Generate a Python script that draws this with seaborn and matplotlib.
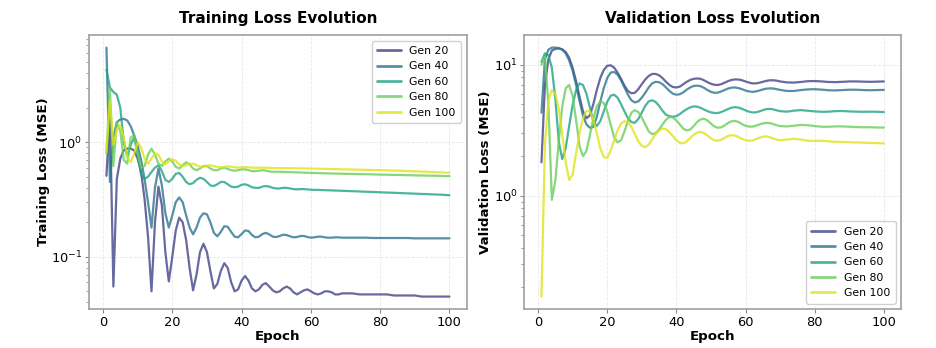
import numpy as np
import pandas as pd
import matplotlib
matplotlib.use("Agg")
import matplotlib.pyplot as plt
import seaborn as sns

# --- data ---
GEN_LABELS = ["Gen 20", "Gen 40", "Gen 60", "Gen 80", "Gen 100"]

# epochs 1..70 every epoch, then every 2nd epoch up to 100
EPOCHS = list(range(1, 71)) + list(range(72, 101, 2))

train_gen20 = [0.51, 1.9, 0.055, 0.48, 0.72, 0.85, 0.88, 0.88, 0.85, 0.72,
               0.55, 0.32, 0.15, 0.05, 0.2, 0.41, 0.28, 0.11, 0.061, 0.1,
               0.17, 0.22, 0.2, 0.14, 0.08, 0.051, 0.07, 0.11, 0.13, 0.11,
               0.075, 0.053, 0.058, 0.075, 0.088, 0.08, 0.06, 0.05, 0.052, 0.062,
               0.068, 0.062, 0.053, 0.05, 0.052, 0.057, 0.059, 0.055, 0.051, 0.049,
               0.05, 0.053, 0.055, 0.053, 0.049, 0.047, 0.049, 0.051, 0.052, 0.05,
               0.048, 0.047, 0.048, 0.05, 0.05, 0.049, 0.047, 0.047, 0.048, 0.048,
               0.048, 0.047, 0.047, 0.047, 0.047, 0.047, 0.046, 0.046, 0.046, 0.046,
               0.045, 0.045, 0.045, 0.045, 0.045]
train_gen40 = [6.7, 0.45, 1.1, 1.5, 1.58, 1.6, 1.55, 1.38, 1.15, 0.94,
               0.7, 0.48, 0.3, 0.18, 0.4, 0.59, 0.42, 0.24, 0.18, 0.23,
               0.3, 0.33, 0.3, 0.23, 0.18, 0.157, 0.18, 0.22, 0.24, 0.235,
               0.2, 0.162, 0.151, 0.165, 0.185, 0.183, 0.165, 0.15, 0.148, 0.158,
               0.17, 0.168, 0.155, 0.148, 0.15, 0.158, 0.162, 0.157, 0.15, 0.149,
               0.152, 0.156, 0.155, 0.151, 0.148, 0.149, 0.152, 0.152, 0.149, 0.147,
               0.148, 0.15, 0.15, 0.148, 0.147, 0.147, 0.148, 0.148, 0.147, 0.147,
               0.147, 0.147, 0.147, 0.146, 0.146, 0.146, 0.146, 0.146, 0.146, 0.145,
               0.145, 0.145, 0.145, 0.145, 0.145]
train_gen60 = [4.3, 3.0, 2.75, 2.6, 2.0, 1.0, 0.75, 0.95, 1.1, 0.8,
               0.52, 0.48, 0.5, 0.55, 0.6, 0.63, 0.56, 0.47, 0.45, 0.48,
               0.53, 0.54, 0.5, 0.45, 0.43, 0.44, 0.47, 0.49, 0.48, 0.45,
               0.42, 0.415, 0.43, 0.45, 0.45, 0.43, 0.41, 0.405, 0.41, 0.425,
               0.43, 0.42, 0.405, 0.4, 0.4, 0.41, 0.415, 0.41, 0.4, 0.395,
               0.395, 0.4, 0.4, 0.395, 0.39, 0.388, 0.39, 0.39, 0.388, 0.385,
               0.384, 0.384, 0.383, 0.382, 0.381, 0.38, 0.379, 0.378, 0.377, 0.376,
               0.374, 0.372, 0.37, 0.368, 0.366, 0.364, 0.362, 0.36, 0.358, 0.356,
               0.354, 0.352, 0.35, 0.348, 0.345]
train_gen80 = [0.8, 2.9, 0.62, 1.5, 1.25, 0.7, 0.65, 1.1, 1.15, 0.8,
               0.6, 0.62, 0.78, 0.88, 0.78, 0.65, 0.62, 0.68, 0.72, 0.68,
               0.61, 0.59, 0.63, 0.67, 0.64, 0.59, 0.57, 0.59, 0.62, 0.62,
               0.59, 0.57, 0.57, 0.59, 0.6, 0.585, 0.57, 0.565, 0.57, 0.58,
               0.58, 0.57, 0.56, 0.56, 0.565, 0.57, 0.565, 0.556, 0.553, 0.553,
               0.552, 0.551, 0.55, 0.549, 0.547, 0.546, 0.545, 0.543, 0.542, 0.54,
               0.539, 0.538, 0.537, 0.536, 0.535, 0.534, 0.533, 0.532, 0.531, 0.53,
               0.529, 0.527, 0.526, 0.524, 0.522, 0.521, 0.519, 0.518, 0.516, 0.514,
               0.513, 0.511, 0.51, 0.508, 0.506]
train_gen100 = [0.82, 2.3, 0.95, 1.3, 1.4, 1.1, 0.75, 0.67, 0.8, 1.0,
                0.9, 0.72, 0.65, 0.72, 0.8, 0.78, 0.68, 0.64, 0.68, 0.71,
                0.69, 0.64, 0.62, 0.63, 0.65, 0.65, 0.63, 0.61, 0.61, 0.625,
                0.63, 0.62, 0.61, 0.605, 0.61, 0.615, 0.612, 0.605, 0.6, 0.602,
                0.606, 0.605, 0.6, 0.598, 0.6, 0.601, 0.599, 0.597, 0.596, 0.595,
                0.595, 0.594, 0.594, 0.593, 0.593, 0.592, 0.592, 0.591, 0.59, 0.59,
                0.589, 0.588, 0.587, 0.586, 0.585, 0.584, 0.583, 0.582, 0.581, 0.58,
                0.578, 0.576, 0.574, 0.572, 0.57, 0.568, 0.566, 0.564, 0.561, 0.558,
                0.555, 0.552, 0.549, 0.545, 0.541]

val_gen20 = [1.8, 7.0, 11.0, 12.8, 13.2, 13.3, 13.1, 12.5, 11.3, 9.5,
             7.5, 5.7, 4.4, 3.9, 4.1, 5.0, 6.4, 7.9, 9.1, 9.8,
             9.9, 9.5, 8.7, 7.8, 6.9, 6.3, 6.05, 6.1, 6.5, 7.1,
             7.7, 8.2, 8.5, 8.5, 8.3, 7.9, 7.4, 7.0, 6.75, 6.7,
             6.8, 7.1, 7.4, 7.65, 7.8, 7.85, 7.8, 7.6, 7.35, 7.15,
             7.02, 7.0, 7.1, 7.3, 7.5, 7.65, 7.72, 7.7, 7.6, 7.45,
             7.3, 7.2, 7.2, 7.28, 7.4, 7.52, 7.6, 7.6, 7.55, 7.45,
             7.32, 7.3, 7.38, 7.48, 7.5, 7.45, 7.38, 7.36, 7.4, 7.45,
             7.45, 7.42, 7.4, 7.42, 7.45]
val_gen40 = [4.3, 11.0, 13.0, 13.5, 13.5, 13.4, 13.0, 12.2, 10.8, 9.0,
             7.0, 5.3, 4.1, 3.5, 3.3, 3.35, 4.0, 5.2, 6.6, 7.9,
             8.7, 8.8, 8.4, 7.6, 6.7, 5.9, 5.35, 5.15, 5.25, 5.6,
             6.1, 6.7, 7.2, 7.4, 7.35, 7.1, 6.7, 6.3, 6.0, 5.9,
             5.95, 6.15, 6.45, 6.7, 6.88, 6.92, 6.85, 6.65, 6.4, 6.2,
             6.1, 6.12, 6.25, 6.42, 6.58, 6.68, 6.7, 6.62, 6.5, 6.35,
             6.25, 6.2, 6.25, 6.35, 6.47, 6.56, 6.6, 6.58, 6.5, 6.42,
             6.3, 6.3, 6.4, 6.48, 6.5, 6.45, 6.38, 6.36, 6.4, 6.44,
             6.44, 6.4, 6.38, 6.4, 6.42]
val_gen60 = [10.5, 12.2, 11.8, 9.5, 5.5, 2.6, 1.9, 2.3, 3.4, 4.9,
             6.4, 7.2, 7.0, 6.0, 4.7, 3.7, 3.4, 3.7, 4.4, 5.2,
             5.8, 5.9, 5.6, 5.0, 4.4, 3.9, 3.65, 3.6, 3.85, 4.3,
             4.85, 5.25, 5.35, 5.2, 4.85, 4.45, 4.15, 4.05, 4.0, 4.05,
             4.2, 4.4, 4.58, 4.72, 4.8, 4.78, 4.68, 4.55, 4.42, 4.33,
             4.28, 4.28, 4.35, 4.47, 4.6, 4.7, 4.74, 4.7, 4.6, 4.48,
             4.38, 4.32, 4.33, 4.4, 4.5, 4.58, 4.6, 4.56, 4.48, 4.42,
             4.38, 4.46, 4.5, 4.45, 4.4, 4.37, 4.38, 4.42, 4.43, 4.4,
             4.38, 4.37, 4.38, 4.37, 4.35]
val_gen80 = [10.0, 11.5, 5.0, 0.93, 1.3, 2.6, 4.8, 6.6, 7.0, 5.8,
             3.8, 2.4, 2.0, 2.2, 2.9, 3.9, 4.8, 5.25, 5.1, 4.4,
             3.5, 2.8, 2.55, 2.65, 3.1, 3.7, 4.3, 4.5, 4.35, 3.95,
             3.5, 3.1, 2.95, 3.0, 3.2, 3.5, 3.8, 4.0, 3.95, 3.75,
             3.5, 3.25, 3.15, 3.2, 3.4, 3.65, 3.82, 3.87, 3.75, 3.55,
             3.38, 3.3, 3.33, 3.45, 3.6, 3.7, 3.72, 3.65, 3.52, 3.42,
             3.37, 3.37, 3.42, 3.5, 3.57, 3.6, 3.58, 3.52, 3.45, 3.4,
             3.38, 3.42, 3.47, 3.45, 3.4, 3.36, 3.36, 3.38, 3.38, 3.36,
             3.34, 3.33, 3.33, 3.32, 3.31]
val_gen100 = [0.17, 2.5, 5.3, 6.4, 6.0, 4.6, 3.0, 1.8, 1.32, 1.45,
              2.1, 3.0, 3.9, 4.45, 4.4, 3.8, 3.0, 2.3, 1.98, 1.95,
              2.2, 2.65, 3.15, 3.55, 3.7, 3.65, 3.35, 2.95, 2.6, 2.4,
              2.35, 2.45, 2.7, 2.95, 3.15, 3.25, 3.22, 3.05, 2.85, 2.65,
              2.53, 2.51, 2.6, 2.75, 2.92, 3.03, 3.07, 3.0, 2.88, 2.74,
              2.65, 2.63, 2.68, 2.77, 2.86, 2.9, 2.88, 2.8, 2.71, 2.65,
              2.63, 2.64, 2.7, 2.77, 2.82, 2.84, 2.8, 2.73, 2.68, 2.66,
              2.68, 2.72, 2.68, 2.63, 2.62, 2.63, 2.6, 2.58, 2.57, 2.56,
              2.55, 2.54, 2.53, 2.52, 2.51]


def to_long(series_list):
    # wide table (one column per generation) -> long format for seaborn
    wide = pd.DataFrame({"Epoch": EPOCHS})
    for label, values in zip(GEN_LABELS, series_list):
        wide[label] = values
    return wide.melt(id_vars="Epoch", var_name="Generation", value_name="Loss")


train_df = to_long([train_gen20, train_gen40, train_gen60, train_gen80, train_gen100])
val_df = to_long([val_gen20, val_gen40, val_gen60, val_gen80, val_gen100])

# --- style ---
sns.set_theme(style="whitegrid")
plt.rcParams['font.family'] = ['DejaVu Sans']
for key in ['text.color', 'axes.labelcolor', 'xtick.color', 'ytick.color']:
    plt.rcParams[key] = 'black'
colors = [plt.cm.viridis(v) for v in [0.2, 0.39, 0.58, 0.77, 0.95]]
palette = dict(zip(GEN_LABELS, colors))

fig = plt.figure(figsize=(9.37, 3.48), dpi=100)
ax1 = fig.add_axes([0.0953, 0.112, 0.4027, 0.787])
ax2 = fig.add_axes([0.5596, 0.112, 0.4020, 0.787])

panels = [
    (ax1, train_df, 'Training Loss Evolution', 'Training Loss (MSE)', 'upper right'),
    (ax2, val_df, 'Validation Loss Evolution', 'Validation Loss (MSE)', 'lower right'),
]

for ax, df, title, ylabel, loc in panels:
    sns.lineplot(data=df, x="Epoch", y="Loss", hue="Generation", hue_order=GEN_LABELS,
                 palette=palette, linewidth=1.6, alpha=0.8, ax=ax)
    ax.set_yscale('log')
    ax.set_title(title, fontsize=11, fontweight='bold', pad=9)
    ax.set_xlabel('Epoch', fontsize=9.6, fontweight='bold', labelpad=1)
    ax.set_ylabel(ylabel, fontsize=9.6, fontweight='bold', labelpad=1)
    ax.set_xticks([0, 20, 40, 60, 80, 100])
    ax.tick_params(axis='both', which='major', labelsize=9.4, length=3, width=0.8,
                   color='#888888', left=True, bottom=True, pad=2)
    ax.tick_params(axis='y', which='minor', length=2, width=0.6, color='#888888', left=True)
    ax.grid(True, which='major', linestyle='--', linewidth=0.6, alpha=0.35, color='#bbbbbb')
    ax.grid(False, which='minor')
    for side, spine in ax.spines.items():
        spine.set_visible(True)
        spine.set_color('#a0a0a0')
        spine.set_linewidth(1.2)
    leg = ax.legend(loc=loc, fontsize=7.8, frameon=True, framealpha=0.9,
                    edgecolor='#cccccc', handlelength=2.2, borderpad=0.5, labelspacing=0.5)
    for line in leg.get_lines():
        line.set_linewidth(2.0)

fig.savefig('out.png', dpi=100)
